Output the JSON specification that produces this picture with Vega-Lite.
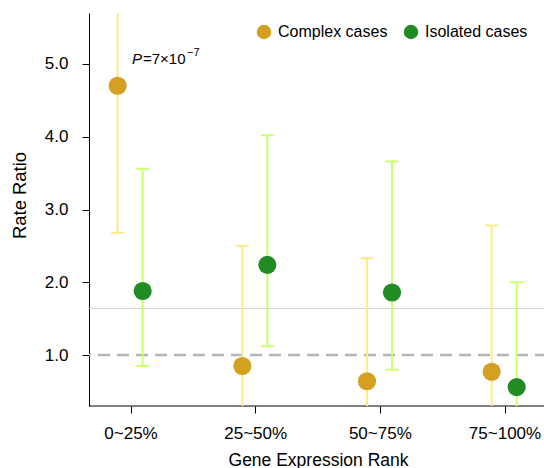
{
  "$schema": "https://vega.github.io/schema/vega-lite/v6.json",
  "width": 458,
  "height": 393,
  "autosize": {"type": "none"},
  "padding": {"left": 89, "top": 13, "right": 0, "bottom": 62},
  "background": "white",
  "config": {
    "view": {"stroke": null},
    "font": "Liberation Sans",
    "axis": {"labelFont": "Liberation Sans", "titleFont": "Liberation Sans", "labelColor": "#000", "titleColor": "#000", "domainColor": "#000", "tickColor": "#000", "grid": false, "titleFontWeight": "normal"}
  },
  "data": {
    "values": [
      {"group": "0~25%", "type": "Complex cases", "rr": 4.70, "lo": 2.68, "hi": 6.5},
      {"group": "0~25%", "type": "Isolated cases", "rr": 1.88, "lo": 0.85, "hi": 3.56},
      {"group": "25~50%", "type": "Complex cases", "rr": 0.85, "lo": 0.1, "hi": 2.50},
      {"group": "25~50%", "type": "Isolated cases", "rr": 2.24, "lo": 1.12, "hi": 4.02},
      {"group": "50~75%", "type": "Complex cases", "rr": 0.64, "lo": 0.1, "hi": 2.33},
      {"group": "50~75%", "type": "Isolated cases", "rr": 1.86, "lo": 0.80, "hi": 3.66},
      {"group": "75~100%", "type": "Complex cases", "rr": 0.77, "lo": 0.1, "hi": 2.78},
      {"group": "75~100%", "type": "Isolated cases", "rr": 0.56, "lo": 0.1, "hi": 2.00}
    ]
  },
  "encoding": {
    "x": {
      "field": "group", "type": "nominal", "sort": ["0~25%", "25~50%", "50~75%", "75~100%"],
      "scale": {"type": "band", "paddingInner": 0, "paddingOuter": 0, "range": [-20.33, 478.35]},
      "axis": {"title": "Gene Expression Rank", "labelAngle": 0, "labelFontSize": 17, "titleFontSize": 17.5, "tickSize": 7, "labelPadding": 12, "titlePadding": 10, "domain": false}
    },
    "xOffset": {"field": "type", "type": "nominal", "scale": {"type": "point", "padding": 0, "domain": ["Complex cases", "Isolated cases"], "range": [49, 74]}}
  },
  "layer": [
    {
      "data": {"values": [{"ref": 1.0}]},
      "mark": {"type": "rule", "color": "#b5b5b5", "strokeWidth": 2.5, "strokeDash": [12, 7]},
      "encoding": {"x": null, "xOffset": null, "y": {"field": "ref", "type": "quantitative", "scale": {"domain": [0.3, 5.7], "nice": false, "zero": false}, "axis": {"title": "Rate Ratio", "values": [1, 2, 3, 4, 5], "format": ".1f", "labelFontSize": 17, "titleFontSize": 18.4, "tickSize": 7, "labelPadding": 14, "titleAngle": -90, "titleX": -64, "titleY": 182, "titleBaseline": "alphabetic", "titleAlign": "center", "domainWidth": 1}}}
    },
    {
      "data": {"values": [{"ref": 1.64}]},
      "mark": {"type": "rule", "color": "#d3d3d3", "strokeWidth": 1},
      "encoding": {"x": null, "xOffset": null, "y": {"field": "ref", "type": "quantitative"}}
    },
    {
      "data": {"values": [{"ref": 0.3}]},
      "mark": {"type": "rule", "color": "#000000", "strokeWidth": 1},
      "encoding": {"x": null, "xOffset": null, "y": {"field": "ref", "type": "quantitative"}}
    },
    {
      "transform": [{"filter": "datum.type === 'Complex cases'"}],
      "layer": [
        {"mark": {"type": "rule", "strokeWidth": 2, "clip": true, "color": "#ffe98a"},
         "encoding": {"y": {"field": "lo", "type": "quantitative"}, "y2": {"field": "hi"}}},
        {"mark": {"type": "tick", "size": 13, "thickness": 2, "clip": true, "opacity": 1, "color": "#ffe98a"},
         "encoding": {"y": {"field": "lo", "type": "quantitative"}}},
        {"mark": {"type": "tick", "size": 13, "thickness": 2, "clip": true, "opacity": 1, "color": "#ffe98a"},
         "encoding": {"y": {"field": "hi", "type": "quantitative"}}}
      ]
    },
    {
      "transform": [{"filter": "datum.type === 'Isolated cases'"}],
      "layer": [
        {"mark": {"type": "rule", "strokeWidth": 2, "clip": true, "color": "#ccff70"},
         "encoding": {"y": {"field": "lo", "type": "quantitative"}, "y2": {"field": "hi"}}},
        {"mark": {"type": "tick", "size": 13, "thickness": 2, "clip": true, "opacity": 1, "color": "#ccff70"},
         "encoding": {"y": {"field": "lo", "type": "quantitative"}}},
        {"mark": {"type": "tick", "size": 13, "thickness": 2, "clip": true, "opacity": 1, "color": "#ccff70"},
         "encoding": {"y": {"field": "hi", "type": "quantitative"}}}
      ]
    },
    {
      "mark": {"type": "point", "filled": true, "opacity": 1, "size": 330},
      "encoding": {
        "y": {"field": "rr", "type": "quantitative"},
        "color": {"field": "type", "type": "nominal", "scale": {"domain": ["Complex cases", "Isolated cases"], "range": ["#d4a021", "#238b23"]},
          "legend": {"title": null, "orient": "none", "legendX": 167, "legendY": 11, "direction": "horizontal", "columns": 2, "symbolType": "circle", "symbolSize": 210, "symbolStrokeWidth": 0, "labelFontSize": 16, "labelFont": "Liberation Sans", "labelColor": "#000", "labelOffset": 6, "columnPadding": 15, "symbolOpacity": 1}}
      }
    },
    {
      "data": {"values": [{"g": "0~25%", "v": 5.0, "t": "P"}]},
      "mark": {"type": "text", "fontStyle": "italic", "fontWeight": "normal", "fontSize": 15, "align": "left", "baseline": "alphabetic", "dx": 1},
      "encoding": {"x": {"field": "g", "type": "nominal"}, "xOffset": null, "y": {"field": "v", "type": "quantitative"}, "text": {"field": "t"}}
    },
    {
      "data": {"values": [{"g": "0~25%", "v": 5.0, "t": "=7×10"}]},
      "mark": {"type": "text", "fontWeight": "normal", "fontSize": 15, "align": "left", "baseline": "alphabetic", "dx": 12},
      "encoding": {"x": {"field": "g", "type": "nominal"}, "xOffset": null, "y": {"field": "v", "type": "quantitative"}, "text": {"field": "t"}}
    },
    {
      "data": {"values": [{"g": "0~25%", "v": 5.0, "t": "−7"}]},
      "mark": {"type": "text", "fontWeight": "normal", "fontSize": 11, "align": "left", "baseline": "alphabetic", "dx": 56, "dy": -8},
      "encoding": {"x": {"field": "g", "type": "nominal"}, "xOffset": null, "y": {"field": "v", "type": "quantitative"}, "text": {"field": "t"}}
    }
  ]
}
